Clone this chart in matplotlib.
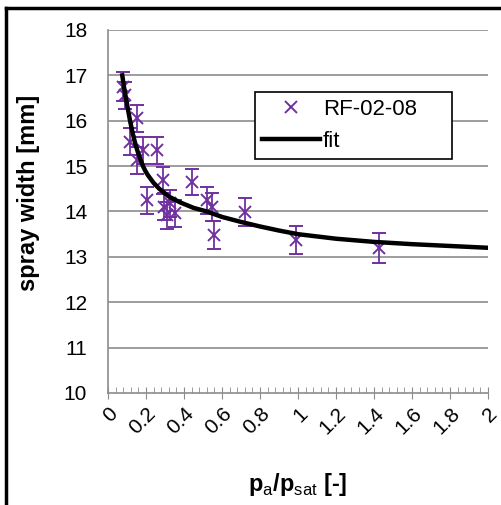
import numpy as np
import matplotlib
matplotlib.use("Agg")
import matplotlib.pyplot as plt
from matplotlib.lines import Line2D

plt.rcParams['font.family'] = ['Liberation Sans', 'DejaVu Sans']
plt.rcParams['mathtext.fontset'] = 'custom'
plt.rcParams['mathtext.rm'] = 'Liberation Sans'
plt.rcParams['mathtext.bf'] = 'Liberation Sans:bold'

# measured spray width (RF-02-08)
p_ratio = [0.08, 0.09, 0.116, 0.154, 0.15, 0.186, 0.207, 0.256, 0.29, 0.295,
           0.31, 0.326, 0.35, 0.44, 0.52, 0.545, 0.56, 0.72, 0.99, 1.426]
width = [16.75, 16.56, 15.54, 16.05, 15.13, 15.35, 14.25, 15.35, 14.69, 14.11,
         13.92, 14.18, 13.96, 14.65, 14.25, 14.1, 13.48, 13.99, 13.37, 13.19]
width_err = [0.32, 0.3, 0.3, 0.3, 0.3, 0.3, 0.3, 0.3, 0.3, 0.3,
             0.3, 0.3, 0.3, 0.28, 0.3, 0.3, 0.3, 0.3, 0.31, 0.33]

# fit curve
fit_x = [0.075, 0.085, 0.095, 0.105, 0.116, 0.13, 0.145, 0.16, 0.172, 0.184,
         0.197, 0.21, 0.24, 0.27, 0.32, 0.38, 0.45, 0.52, 0.6, 0.7, 0.8, 0.9,
         1.0, 1.2, 1.4, 1.6, 1.8, 2.0]
fit_y = [17.0, 16.72, 16.48, 16.25, 16.0, 15.72, 15.47, 15.27, 15.13, 15.0,
         14.89, 14.8, 14.63, 14.5, 14.33, 14.2, 14.08, 14.0, 13.88, 13.77,
         13.67, 13.58, 13.5, 13.4, 13.33, 13.28, 13.24, 13.2]

x_ticks = [0, 0.2, 0.4, 0.6, 0.8, 1, 1.2, 1.4, 1.6, 1.8, 2]
x_labels = ['0', '0.2', '0.4', '0.6', '0.8', '1', '1.2', '1.4', '1.6', '1.8', '2']
y_ticks = [10, 11, 12, 13, 14, 15, 16, 17, 18]

purple = '#7030a0'
grey = '#8c8c8c'

fig = plt.figure(figsize=(5.01, 5.05), dpi=100)
ax = fig.add_axes([0.2156, 0.2218, 0.7585, 0.7188])

for yt in y_ticks[1:]:
    ax.axhline(yt, color=grey, lw=1.2, zorder=0)

ax.errorbar(p_ratio, width, yerr=width_err, fmt='x', color=purple,
            ms=9, mew=1.4, elinewidth=1.3, capsize=5, capthick=1.3, zorder=3)
ax.plot(fit_x, fit_y, color='black', lw=3.2, zorder=4)

ax.set_xlim(0, 2)
ax.set_ylim(10, 18)
ax.set_xticks(x_ticks)
ax.set_xticklabels(x_labels, rotation=45, ha='right', va='top',
                   rotation_mode='anchor', fontsize=15)
ax.set_xticks(np.arange(0, 2.001, 0.04), minor=True)
ax.set_yticks(y_ticks)
ax.tick_params(axis='y', labelsize=15, length=0, pad=15)
ax.tick_params(axis='x', which='major', direction='inout', length=8, color=grey, pad=4)
ax.tick_params(axis='x', which='minor', direction='in', length=4, color=grey)

for side in ['top', 'right']:
    ax.spines[side].set_visible(False)
for side in ['left', 'bottom']:
    ax.spines[side].set_color(grey)
    ax.spines[side].set_linewidth(1.2)

ax.set_ylabel('spray width [mm]', fontsize=17, fontweight='bold')
ax.yaxis.set_label_coords(-0.178, 0.55)
ax.set_xlabel(r'$\mathbf{p}_{\mathrm{a}}\mathbf{/p}_{\mathrm{sat}}$ [-]', fontsize=17,
              fontweight='bold', labelpad=24)

handles = [Line2D([], [], ls='none', marker='x', color=purple, ms=9, mew=1.4),
           Line2D([], [], color='black', lw=3.2)]
leg = ax.legend(handles, ['RF-02-08', 'fit'], loc='upper left',
                bbox_to_anchor=(0.387, 0.729, 0.518, 0.1), mode='expand',
                fontsize=16, frameon=True,
                fancybox=False, framealpha=1, edgecolor='black',
                handlelength=2.6, handletextpad=0.15, borderpad=0.3,
                labelspacing=0.5, borderaxespad=0)
leg.get_frame().set_linewidth(1.2)

# outer frame (left and top edges)
fig.add_artist(Line2D([0.011, 0.011], [0, 0.985], color='black', lw=2.5,
                      transform=fig.transFigure))
fig.add_artist(Line2D([0.011, 1], [0.985, 0.985], color='black', lw=2.5,
                      transform=fig.transFigure))

fig.savefig('out.png', dpi=100)
